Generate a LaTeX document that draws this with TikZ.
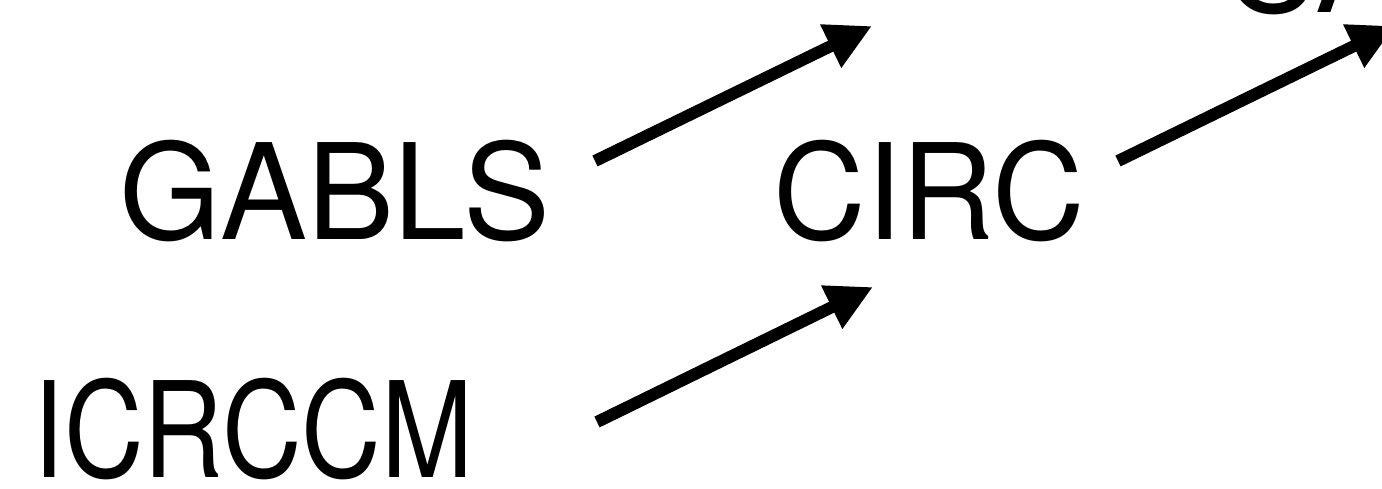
\documentclass[tikz,border=0pt]{standalone}
\usepackage{fontspec}
\setmainfont{TeX Gyre Heros}
\usetikzlibrary{arrows.meta}
\begin{document}
\begin{tikzpicture}[x=1pt,y=-1pt,
  lbl/.style={inner sep=0pt,outer sep=0pt,font=\fontsize{133}{160}\selectfont},
  arr/.style={line width=12pt,line cap=butt,-{Triangle[length=46pt,width=45pt]}}]
\useasboundingbox (0,0) rectangle (1382,489);
\clip (0,0) rectangle (1382,489);
\node[lbl,anchor=base] (gabls) at (335,240) {\scalebox{0.98}[1]{GABLS}};
\node[lbl,anchor=base] (circ) at (929.5,240) {\scalebox{0.965}[1]{CIRC}};
\node[lbl,anchor=base] (icrccm) at (253.5,477) {\scalebox{0.83}[1]{ICRCCM}};
\node[lbl,anchor=base west] (top) at (1223,13) {CA};
\coordinate (t1) at (595,161);
\coordinate (h1) at (872,26);
\coordinate (t2) at (597,422);
\coordinate (h2) at (873,287);
\coordinate (t3) at (1118,161);
\coordinate (h3) at (1395,26);
\draw[arr] (t1) -- (h1);
\draw[arr] (t2) -- (h2);
\draw[arr] (t3) -- (h3);
\end{tikzpicture}
\end{document}
